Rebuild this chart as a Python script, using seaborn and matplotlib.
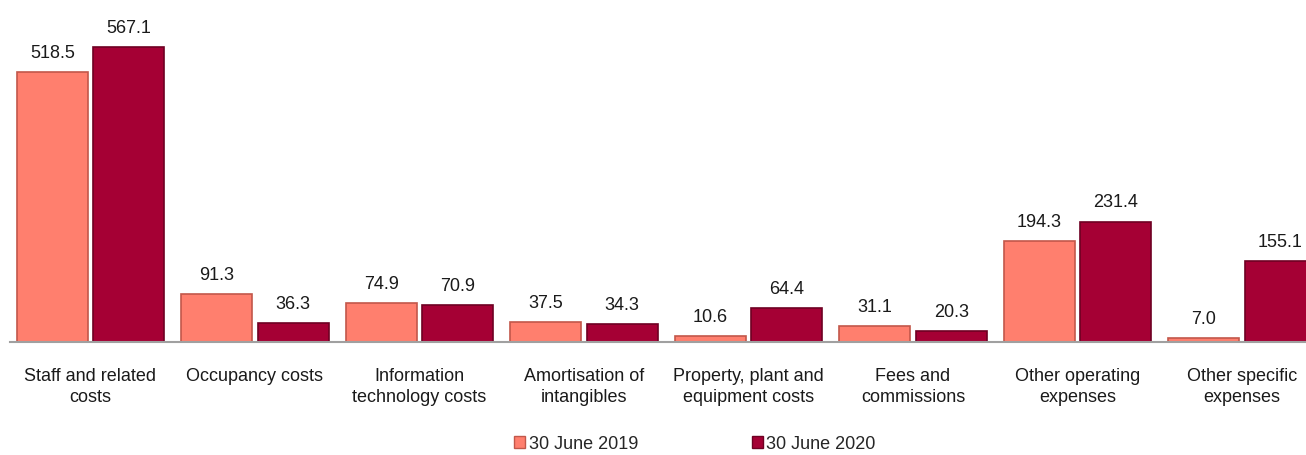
import matplotlib
matplotlib.use("Agg")
import matplotlib.pyplot as plt
import seaborn as sns
import pandas as pd
from matplotlib.patches import Patch

categories = ["Staff and related\ncosts", "Occupancy costs", "Information\ntechnology costs",
              "Amortisation of\nintangibles", "Property, plant and\nequipment costs",
              "Fees and\ncommissions", "Other operating\nexpenses", "Other specific\nexpenses"]
series = ["30 June 2019", "30 June 2020"]
values_2019 = [518.5, 91.3, 74.9, 37.5, 10.6, 31.1, 194.3, 7.0]
values_2020 = [567.1, 36.3, 70.9, 34.3, 64.4, 20.3, 231.4, 155.1]
colors = ["#FF7F6E", "#A50034"]
edge_colors = ["#C2574A", "#6E0022"]

df = pd.DataFrame({
    "category": categories * 2,
    "series": [series[0]] * len(categories) + [series[1]] * len(categories),
    "value": values_2019 + values_2020,
})

sns.set_theme(style="white")
plt.rcParams["font.family"] = ["Liberation Sans", "DejaVu Sans"]

fig = plt.figure(figsize=(13.06, 4.56), dpi=100)
ax = fig.add_axes([10 / 1306, 1 - 343 / 456, 1 - 10 / 1306, 323 / 456])

sns.barplot(data=df, x="category", y="value", hue="series", order=categories,
            hue_order=series, palette=colors, width=0.93, gap=0.07,
            legend=False, ax=ax, saturation=1)

for i, cont in enumerate(ax.containers):
    for p in cont.patches:
        p.set_edgecolor(edge_colors[i])
        p.set_linewidth(1.2)
    ax.bar_label(cont, fmt="%.1f", padding=8, fontsize=13, color="#1a1a1a")

ax.set_xlim((10 - 90.5) / 164.5, (1306 - 90.5) / 164.5)
ax.set_ylim(0, 620.6)
ax.set_xlabel("")
ax.set_ylabel("")
ax.set_yticks([])
ax.tick_params(axis="x", length=0, pad=18, labelsize=13, colors="#1a1a1a")
for lbl in ax.get_xticklabels():
    lbl.set_linespacing(1.3)
for s in ["top", "right", "left"]:
    ax.spines[s].set_visible(False)
ax.spines["bottom"].set_color("#A0A0A0")
ax.spines["bottom"].set_linewidth(1.5)

handles = [Patch(facecolor=colors[i], edgecolor=edge_colors[i]) for i in range(2)]
fig.legend(handles, series, loc="center", bbox_to_anchor=(695 / 1306, 1 - 445 / 456),
           ncol=2, frameon=False, fontsize=13, handlelength=0.6, handleheight=0.6,
           handletextpad=0.2, columnspacing=6.3)

fig.savefig("out.png", dpi=100)
